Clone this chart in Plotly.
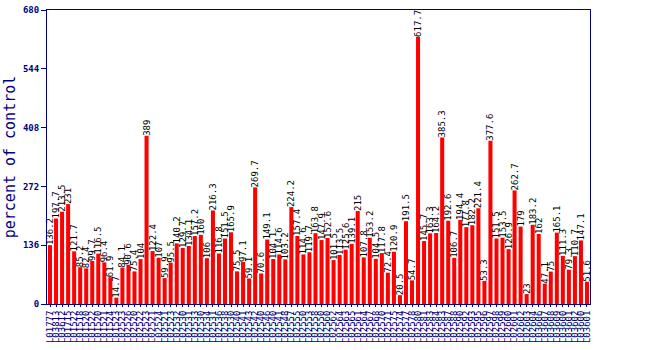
import plotly.graph_objects as go

values = [136.2, 197.7, 213.5, 231, 121.7, 85.2, 82.4, 99.7, 116.5, 96.4,
          61.9, 14.7, 84.1, 90.6, 75.4, 104, 389, 122.4, 107, 59.9,
          95.5, 140.2, 129.7, 134.1, 157.2, 160, 106, 216.3, 116.8, 151.5,
          165.9, 75.5, 97.1, 59.1, 269.7, 70.6, 149.1, 104.1, 114.6, 103.2,
          224.2, 157.4, 114.6, 119.7, 163.8, 147.9, 152.6, 101.5, 113.5, 125.6,
          139.1, 215, 107.8, 153.2, 104.5, 117.8, 72.4, 120.9, 20.5, 191.5,
          54.7, 617.7, 145.7, 163.3, 164.2, 385.3, 192.6, 106.7, 194.4, 177.8,
          182.2, 221.4, 53.3, 377.6, 151.5, 153.5, 126.9, 262.7, 179, 23,
          183.2, 162, 47.1, 75, 165.1, 111.3, 79.3, 110.7, 147.1, 51.6]

categories = ["L01777", "L03813", "L03612", "L01715", "L01522", "L01518", "L01520", "L01522", "L01520", "L01521",
              "L01524", "L01523", "L02523", "L02526", "L02520", "L02522", "L02523", "L02521", "L02524", "L02521",
              "L02523", "L02532", "L02530", "L02531", "L02533", "L02530", "L02534", "L02531", "L02536", "L02538",
              "L02530", "L02540", "L02541", "L02543", "L02542", "L02540", "L02546", "L02540", "L02541", "L02548",
              "L02557", "L02555", "L02550", "L02553", "L02558", "L02550", "L02560", "L02562", "L02564", "L02563",
              "L02565", "L02561", "L02564", "L02567", "L02568", "L02570", "L02571", "L02575", "L02574", "L02577",
              "L02578", "L02580", "L02581", "L02583", "L02584", "L02583", "L02587", "L02588", "L02590", "L02592",
              "L02593", "L02595", "L02596", "L02597", "L02598", "L02599", "L02600", "L02601", "L02602", "L02603",
              "L02604", "L03606", "L03607", "L03608", "L03609", "L03600", "L03601", "L03602", "L03600", "L03601"]
categories = [f"{c}_{i}" for i, c in enumerate(categories)]
tick_text = [c.split("_")[0] for c in categories]

y_ticks = [0, 136, 272, 408, 544, 680]

navy = "#000080"

fig = go.Figure(go.Bar(
    x=categories,
    y=values,
    marker=dict(color="#ff0000", line=dict(width=0)),
    text=[f"{v:g}" for v in values],
    textposition="outside",
    textangle=-90,
    constraintext="none",
    textfont=dict(family="DejaVu Sans Mono", size=9, color="#000000"),
    cliponaxis=False,
))

fig.update_layout(
    width=650, height=350,
    margin=dict(l=47, r=60, t=10, b=46),
    paper_bgcolor="white",
    plot_bgcolor="white",
    bargap=0.33,
    showlegend=False,
    font=dict(family="DejaVu Sans Mono", color=navy),
)

fig.update_xaxes(
    tickmode="array",
    tickvals=categories,
    ticktext=tick_text,
    tickangle=-90,
    tickfont=dict(family="DejaVu Sans Mono", size=9, color=navy),
    showline=True, linecolor=navy, linewidth=1, mirror=True,
    ticks="outside", tickcolor=navy, ticklen=2,
    showgrid=False, automargin=False,
)

fig.update_yaxes(
    range=[0, 680],
    tickmode="array",
    tickvals=y_ticks,
    ticktext=[f"<b>{t}</b>" for t in y_ticks],
    tickfont=dict(family="DejaVu Sans Mono", size=9, color=navy),
    showline=True, linecolor=navy, linewidth=1, mirror=True,
    ticks="outside", tickcolor=navy, ticklen=5,
    showgrid=False, zeroline=False, automargin=False,
    title=dict(text="percent of control", font=dict(family="DejaVu Sans Mono", size=15, color=navy), standoff=3),
)

fig.write_html("out.html")
